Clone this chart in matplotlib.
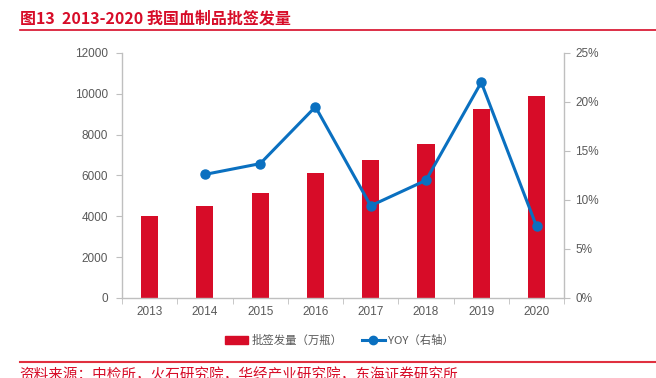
import matplotlib
matplotlib.use("Agg")
import matplotlib.pyplot as plt
from matplotlib.lines import Line2D
from matplotlib.patches import Patch
from matplotlib.ticker import FuncFormatter

plt.rcParams['font.family'] = ['Noto Sans CJK SC', 'DejaVu Sans']

years = ['2013', '2014', '2015', '2016', '2017', '2018', '2019', '2020']
volume = [4016, 4521, 5143, 6138, 6743, 7559, 9241, 9910]
yoy_years = ['2014', '2015', '2016', '2017', '2018', '2019', '2020']
yoy = [12.6, 13.7, 19.5, 9.4, 12.0, 22.0, 7.3]

RED = '#d70c28'
BLUE = '#0a70c0'
GREY = '#595959'
AX = '#bfbfbf'
TICKFONT = ['Liberation Sans', 'Noto Sans CJK SC']

fig = plt.figure(figsize=(6.56, 3.78), dpi=100)
ax = fig.add_axes([0.186, 0.212, 0.674, 0.648])
ax2 = ax.twinx()

x = list(range(len(years)))
ax.bar(x, volume, width=0.31, color=RED, zorder=2)
xi = [years.index(y) for y in yoy_years]
ax2.plot(xi, yoy, color=BLUE, lw=2.2, marker='o', ms=6.5, zorder=3)

ax.set_xlim(-0.5, len(years) - 0.5)
ax.set_ylim(0, 12000)
ax.set_yticks(range(0, 12001, 2000))
ax2.set_ylim(0, 25)
ax2.set_yticks(range(0, 26, 5))
ax2.yaxis.set_major_formatter(FuncFormatter(lambda v, p: f'{int(v)}%'))

ax.set_xticks(x)
ax.set_xticklabels(years)
ax.set_xticks([i - 0.5 for i in range(len(years) + 1)], minor=True)
ax.tick_params(axis='x', which='major', length=0, pad=6)
ax.tick_params(axis='x', which='minor', length=4, color=AX)

for a in (ax, ax2):
    for s in a.spines.values():
        s.set_visible(False)
ax.spines['left'].set_visible(True)
ax.spines['bottom'].set_visible(True)
ax2.spines['right'].set_visible(True)
for s in (ax.spines['left'], ax.spines['bottom'], ax2.spines['right']):
    s.set_color(AX)
    s.set_linewidth(1)

ax.tick_params(axis='y', length=4, color=AX, labelcolor=GREY, labelsize=8.5, pad=6)
ax.tick_params(axis='x', labelcolor=GREY, labelsize=8.5)
ax2.tick_params(axis='y', length=4, color=AX, labelcolor=GREY, labelsize=8.5, pad=4)
for lab in ax.get_xticklabels() + ax.get_yticklabels() + ax2.get_yticklabels():
    lab.set_family(TICKFONT)

handles = [Patch(color=RED, label='批签发量（万瓶）'),
           Line2D([0], [0], color=BLUE, lw=2.2, marker='o', ms=6, label='YOY（右轴）')]
fig.legend(handles=handles, loc='center', bbox_to_anchor=(0.518, 0.10), ncol=2,
           frameon=False, fontsize=8.2, labelcolor=GREY, handlelength=2.0,
           columnspacing=1.7, handletextpad=0.3)

fig.text(0.03, 0.952, '图13  2013-2020 我国血制品批签发量', color=RED, fontsize=11.5,
         fontweight='bold', va='center', ha='left')
fig.add_artist(Line2D([0.03, 1.0], [0.92, 0.92], color=RED, lw=1.2, transform=fig.transFigure))
fig.add_artist(Line2D([0.03, 1.0], [0.042, 0.042], color='#e0303f', lw=1.5, transform=fig.transFigure))
fig.text(0.03, 0.008, '资料来源：中检所，火石研究院，华经产业研究院，东海证券研究所', color=RED,
         fontsize=10.5, va='center', ha='left')

fig.savefig('out.png', dpi=100)
